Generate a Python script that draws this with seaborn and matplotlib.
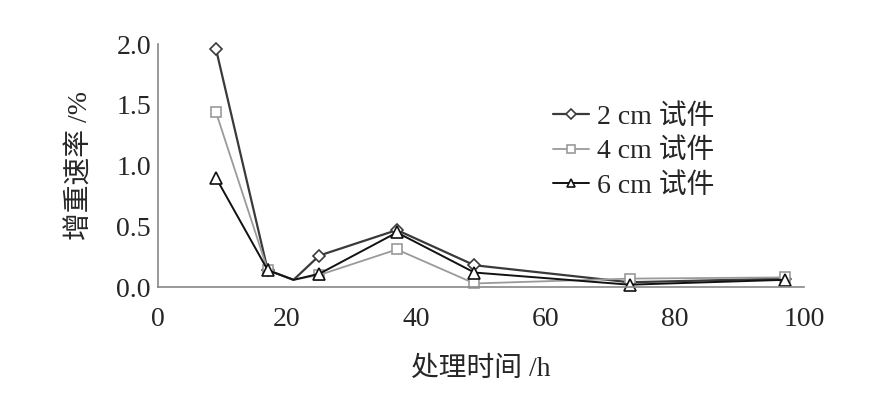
import numpy as np
import pandas as pd
import seaborn as sns
from matplotlib import pyplot as plt

hours = [9, 17, 21, 25, 37, 49, 73, 97]
rate_2cm = [1.96, 0.14, 0.06, 0.26, 0.47, 0.18, 0.04, 0.07]
rate_4cm = [1.44, 0.14, 0.06, 0.10, 0.31, 0.03, 0.07, 0.08]
rate_6cm = [0.90, 0.14, 0.06, 0.11, 0.45, 0.12, 0.02, 0.06]
labels = ['2 cm 试件', '4 cm 试件', '6 cm 试件']

sns.set_style('white')
plt.rcParams['font.family'] = ['Liberation Serif', 'Noto Sans CJK SC']

fig = plt.figure(figsize=(8.72, 4.09), dpi=100)
ax = fig.add_axes([0.181, 0.298, 0.741, 0.594])

styles = [('D', '#3a3a3a', 1.6, 6), ('s', '#9a9a9a', 1.3, 7), ('^', '#111111', 1.4, 8)]
marked = [0, 1, 3, 4, 5, 6, 7]
for vals, lab, (mk, col, lw, ms) in zip([rate_2cm, rate_4cm, rate_6cm], labels, styles):
    sns.lineplot(x=hours, y=vals, ax=ax, color=col, lw=lw, marker=mk, ms=ms,
                 mfc='white', mec=col, mew=1.2, markevery=marked, label=lab,
                 clip_on=False)

ax.set_xlim(0, 100)
ax.set_ylim(0, 2.0)
ax.set_xticks([0, 20, 40, 60, 80, 100])
ax.set_yticks([0, 0.5, 1.0, 1.5, 2.0])
ax.set_yticklabels(['0.0', '0.5', '1.0', '1.5', '2.0'])
ax.tick_params(direction='in', length=5, width=1, color='#888888', labelsize=20)
ax.tick_params(axis='y', pad=5)
ax.tick_params(axis='x', pad=14)
for s in ['top', 'right']:
    ax.spines[s].set_visible(False)
for s in ['left', 'bottom']:
    ax.spines[s].set_color('#888888')
    ax.spines[s].set_linewidth(1.2)

ax.set_xlabel('处理时间 /h', fontsize=20, labelpad=18)
ax.set_ylabel('增重速率 /%', fontsize=20, labelpad=16)

leg = ax.legend(loc='upper left', bbox_to_anchor=(0.59, 0.81), frameon=False, fontsize=20,
                handlelength=1.3, handletextpad=0.3, labelspacing=0.32, borderpad=0,
                markerscale=0.8)

fig.savefig('out.png', dpi=100)
